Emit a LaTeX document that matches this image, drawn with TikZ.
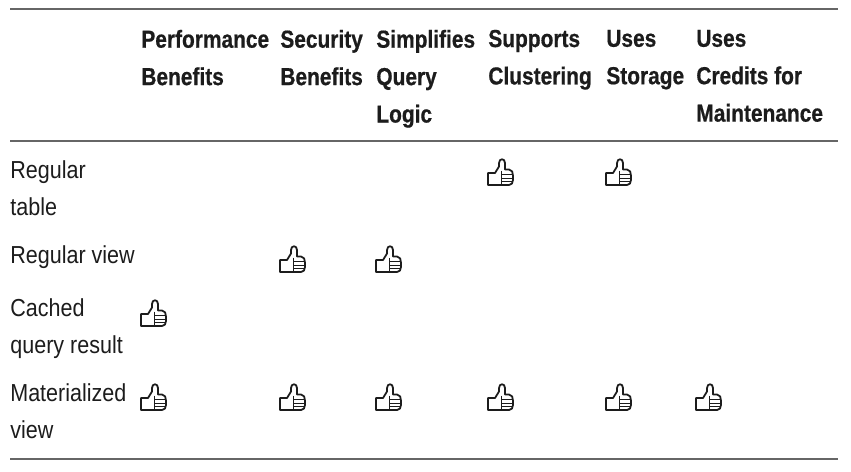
\documentclass[tikz,border=0pt]{standalone}
\usepackage{fontspec}
\setmainfont[FakeStretch=0.875,BoldFeatures={FakeStretch=0.85,FakeBold=0.6}]{Liberation Sans}
\usepackage{xcolor}
\definecolor{inkblack}{HTML}{1C1C1C}
\definecolor{rulegray}{HTML}{666666}
\begin{document}
\begin{tikzpicture}[
  x=0.02cm, y=-0.02cm,
  cell/.style={anchor=north west, inner sep=0pt, align=left, text=inkblack,
    font=\fontsize{14}{21.3}\selectfont},
  headcell/.style={cell, font=\fontsize{14}{21.3}\selectfont\bfseries},
  tablerule/.style={draw=rulegray, line width=0.8pt},
  thumb/.pic={
    \draw[inkblack, line width=1pt, line join=round, fill=white]
      (-12,12.5) -- (-12,0.5) -- (-5,0.5) -- (-1,-6) -- (-1,-9.5)
      .. controls (-1,-14.5) and (5,-14.5) .. (5,-9.5) -- (5,-3) -- (9,-3)
      .. controls (12,-3) and (13,0) .. (13,3) -- (13,7.5)
      .. controls (13,10.5) and (11.5,12.5) .. (9,12.5) -- cycle;
    \draw[inkblack, line width=1pt] (1.5,-2) -- (1.5,12.5);
    \draw[inkblack, line width=0.5pt] (1.5,2) -- (12.5,2) (1.5,5.5) -- (13,5.5) (1.5,9) -- (12.5,9);
  }
]
\useasboundingbox (0,0) rectangle (851,471);
% rules
\coordinate (topL) at (10,9);
\coordinate (topR) at (838,9);
\coordinate (midL) at (10,141);
\coordinate (midR) at (838,141);
\coordinate (botL) at (10,459);
\coordinate (botR) at (838,459);
\draw[tablerule] (topL) -- (topR);
\draw[tablerule] (midL) -- (midR);
\draw[tablerule] (botL) -- (botR);
% header row
\node[headcell] (perf) at (141,29.5) {Performance\\Benefits};
\node[headcell] (secu) at (280,29.5) {Security\\Benefits};
\node[headcell] (simp) at (376,29.5) {Simplifies\\Query\\Logic};
\node[headcell] (clus) at (488,29.5) {Supports\\Clustering};
\node[headcell] (stor) at (606,29.5) {Uses\\Storage};
\node[headcell] (cred) at (696,29.5) {Uses\\Credits for\\Maintenance};
% row labels
\node[cell] (table) at (10,160) {Regular\\table};
\node[cell] (view) at (10,245) {Regular view};
\node[cell] (cache) at (10,298) {Cached\\query result};
\node[cell] (matv) at (10,383) {Materialized\\view};
% thumbs
\foreach \px/\py in {500/172.5, 618/172.5, 292/259.5, 388/259.5, 153/313.5,
    153/397.5, 292/397.5, 388/397.5, 500/397.5, 618/397.5, 708/397.5}
  \pic at (\px,\py) {thumb};
\end{tikzpicture}
\end{document}
